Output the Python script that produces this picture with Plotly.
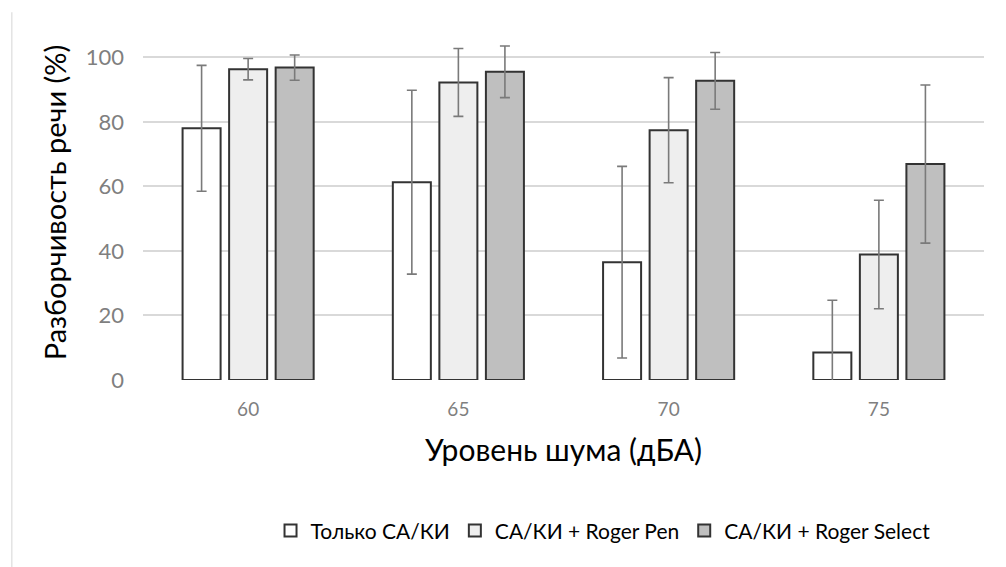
import plotly.graph_objects as go

categories = ["60", "65", "70", "75"]
series_names = ["Только СА/КИ", "СА/КИ + Roger Pen", "СА/КИ + Roger Select"]
only_vals = [78, 61.3, 36.5, 8.5]
only_err = [19.5, 28.5, 29.7, 16.2]
pen_vals = [96.3, 92.2, 77.4, 38.9]
pen_err = [3.3, 10.5, 16.3, 16.8]
select_vals = [96.8, 95.5, 92.7, 66.9]
select_err = [3.9, 8.0, 8.8, 24.5]
y_ticks = [0, 20, 40, 60, 80, 100]

fills = ["#ffffff", "#eeeeee", "#bfbfbf"]
FONT = "Lato"

fig = go.Figure()
for name, vals, errs, col in zip(series_names, [only_vals, pen_vals, select_vals],
                                 [only_err, pen_err, select_err], fills):
    fig.add_trace(go.Bar(
        x=categories, y=vals, name=name,
        marker=dict(color=col, line=dict(color="#333333", width=2)),
        error_y=dict(type="data", array=errs, visible=True, color="#7a7a7a",
                     thickness=1.6, width=5),
    ))

fig.update_layout(
    width=1006, height=567,
    paper_bgcolor="white", plot_bgcolor="white",
    barmode="group", bargap=0.336, bargroupgap=0.183,
    margin=dict(l=135, r=30, t=17, b=195),
    font=dict(family=FONT, color="#000000"),
    showlegend=True,
    legend=dict(orientation="h", x=0.547, xanchor="center", y=-0.425, yanchor="middle",
                font=dict(size=21, color="#000000"), itemwidth=30,
                traceorder="normal"),
    xaxis=dict(showgrid=False, showline=False, ticks="",
               tickfont=dict(size=19, color="#7f7f7f"), ticklabelstandoff=16,
               title=dict(text="Уровень шума (дБА)", font=dict(size=30, color="#000000"),
                          standoff=20)),
    yaxis=dict(range=[0, 110], tickvals=y_ticks, showgrid=True, gridcolor="#d9d9d9",
               gridwidth=1.5, zeroline=False, showline=False, ticks="",
               tickfont=dict(size=22, color="#7f7f7f"), ticklabelstandoff=18,
               title=dict(text="Разборчивость речи (%)", font=dict(size=29, color="#000000"),
                          standoff=10)),
)

fig.add_shape(type="line", xref="paper", yref="paper", x0=-0.156, x1=-0.156,
              y0=1.036, y1=-0.55, line=dict(color="#e3e3e3", width=1.5))

fig.write_html("out.html")
